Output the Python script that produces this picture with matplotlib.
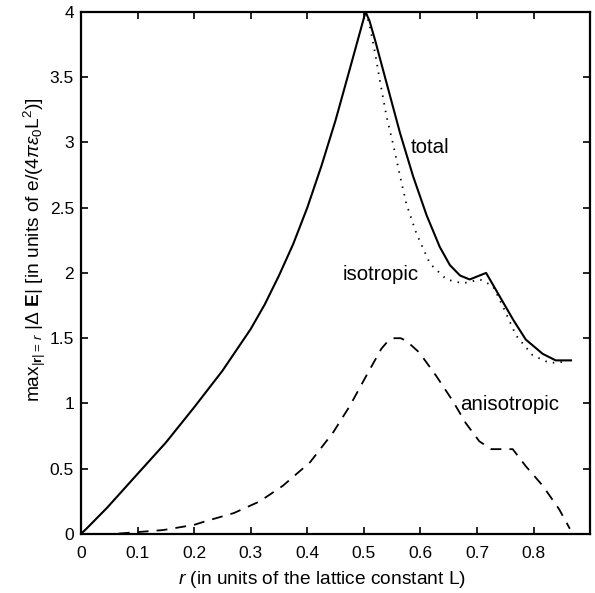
import matplotlib
matplotlib.use('Agg')
import matplotlib.pyplot as plt

plt.rcParams['font.family'] = ['Liberation Sans', 'DejaVu Sans']
plt.rcParams['mathtext.fontset'] = 'custom'
plt.rcParams['mathtext.rm'] = 'Liberation Sans'
plt.rcParams['mathtext.it'] = 'Liberation Sans:italic'
plt.rcParams['mathtext.bf'] = 'Liberation Sans:bold'

# total field (solid)
r_total = [0.0, 0.011, 0.046, 0.1, 0.15, 0.2, 0.25, 0.3, 0.325, 0.35, 0.375, 0.4,
           0.425, 0.45, 0.475, 0.503, 0.51, 0.52, 0.528, 0.546, 0.564, 0.587,
           0.611, 0.634, 0.652, 0.670, 0.687, 0.716, 0.74, 0.764, 0.786, 0.816,
           0.839, 0.866]
e_total = [0.0, 0.046, 0.2, 0.46, 0.70, 0.97, 1.25, 1.57, 1.76, 1.98, 2.22, 2.5,
           2.82, 3.17, 3.56, 4.0, 3.93, 3.78, 3.65, 3.36, 3.07, 2.74,
           2.44, 2.2, 2.06, 1.98, 1.95, 2.0, 1.82, 1.64, 1.49, 1.38,
           1.33, 1.33]

# isotropic part (dotted), coincides with total below r = 0.5
r_iso = [0.503, 0.51, 0.52, 0.528, 0.54, 0.552, 0.564, 0.575, 0.593, 0.617,
         0.646, 0.675, 0.705, 0.728, 0.746, 0.769, 0.798, 0.828, 0.857]
e_iso = [4.0, 3.9, 3.68, 3.48, 3.2, 2.98, 2.74, 2.53, 2.30, 2.07,
         1.95, 1.92, 1.95, 1.90, 1.74, 1.52, 1.37, 1.31, 1.32]

# anisotropic part (dashed)
r_aniso = [0.0, 0.057, 0.145, 0.2, 0.222, 0.27, 0.316, 0.357, 0.405, 0.446, 0.475,
           0.504, 0.531, 0.543, 0.554, 0.565, 0.575, 0.598, 0.628, 0.657, 0.68,
           0.704, 0.725, 0.763, 0.786, 0.816, 0.845, 0.864]
e_aniso = [0.0, 0.0, 0.03, 0.07, 0.10, 0.16, 0.25, 0.37, 0.55, 0.78, 0.98,
           1.21, 1.42, 1.48, 1.50, 1.50, 1.48, 1.39, 1.21, 1.02, 0.85,
           0.71, 0.65, 0.65, 0.52, 0.37, 0.19, 0.04]

x_ticks = [0, 0.1, 0.2, 0.3, 0.4, 0.5, 0.6, 0.7, 0.8]
x_labels = ['0', '0.1', '0.2', '0.3', '0.4', '0.5', '0.6', '0.7', '0.8']
y_ticks = [0, 0.5, 1, 1.5, 2, 2.5, 3, 3.5, 4]
y_labels = ['0', '0.5', '1', '1.5', '2', '2.5', '3', '3.5', '4']

fig = plt.figure(figsize=(5.95, 5.93), dpi=100)
ax = fig.add_axes([0.136, 0.0995, 0.856, 0.8805])

ax.plot(r_total, e_total, color='black', linewidth=1.5)
ax.plot(r_iso, e_iso, color='black', linewidth=1.3, linestyle=(0, (0.8, 3.5)))
ax.plot(r_aniso, e_aniso, color='black', linewidth=1.3, linestyle=(0, (6, 4.5)))

ax.text(0.583, 2.96, 'total', fontsize=14.8, va='center')
ax.text(0.462, 1.99, 'isotropic', fontsize=14.8, va='center')
ax.text(0.670, 0.99, 'anisotropic', fontsize=14.8, va='center')

ax.set_xlim(0, 0.9)
ax.set_ylim(0, 4)
ax.set_xticks(x_ticks)
ax.set_xticklabels(x_labels)
ax.set_yticks(y_ticks)
ax.set_yticklabels(y_labels)
ax.tick_params(direction='in', top=True, right=True, length=5, width=1.2,
               labelsize=12.5)
ax.tick_params(axis='x', pad=8.5)
ax.tick_params(axis='y', pad=5)
for s in ax.spines.values():
    s.set_linewidth(1.6)

ax.set_xlabel(r'$r$ (in units of the lattice constant L)', fontsize=13.8)
ax.set_ylabel(r'max$_{|\mathbf{r}|=\,r}$ $|\Delta$ $\mathbf{E}|$ [in units of e/(4$\pi\varepsilon_0$L$^2$)]',
              fontsize=13.8)
ax.xaxis.set_label_coords(0.474, -0.067)
ax.yaxis.set_label_coords(-0.064, 0.544)

fig.savefig('out.png', dpi=100)
